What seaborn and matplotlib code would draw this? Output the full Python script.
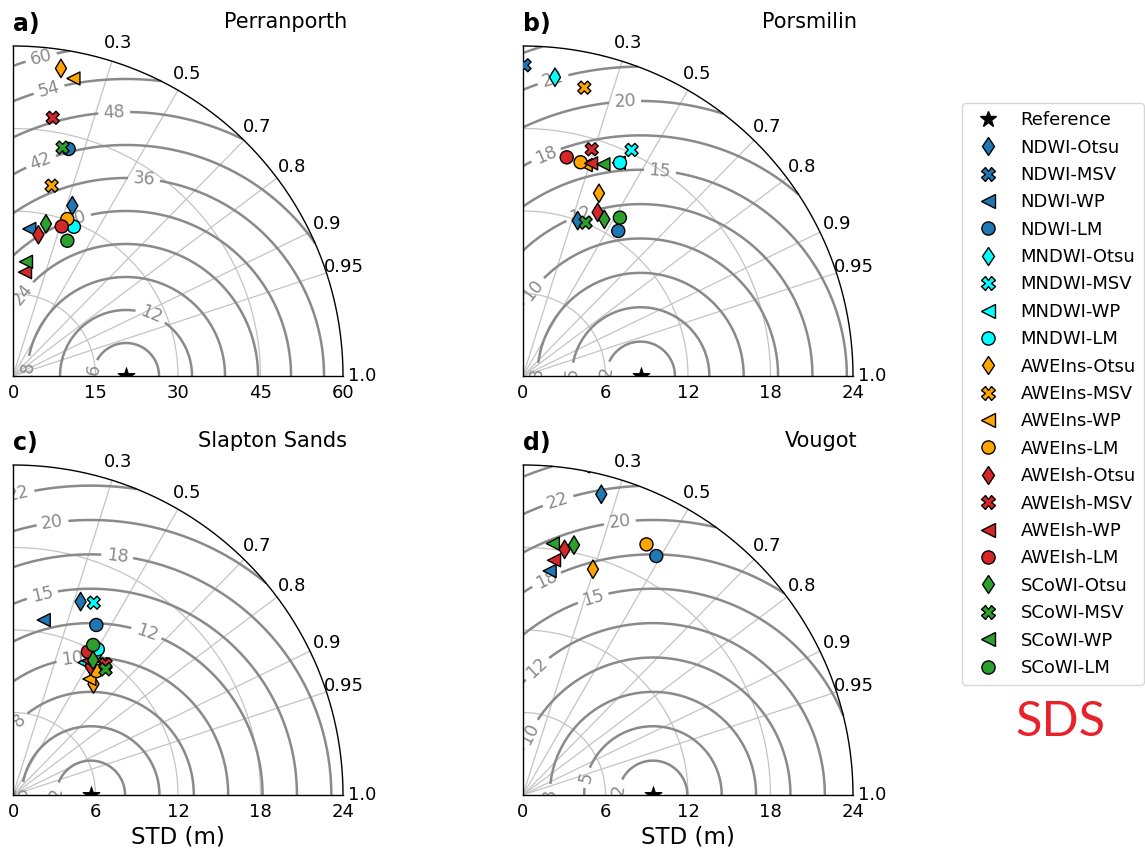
import numpy as np
import pandas as pd
import matplotlib
matplotlib.use("Agg")
import matplotlib.pyplot as plt
import seaborn as sns
from matplotlib.patches import Wedge
from matplotlib.lines import Line2D

sns.set_style("white")
plt.rcParams["font.family"] = ["DejaVu Sans"]
plt.rcParams["text.color"] = "black"
plt.rcParams["axes.labelcolor"] = "black"
plt.rcParams["xtick.color"] = "black"
plt.rcParams["ytick.color"] = "black"

# ---------------- data ----------------
methods = ["NDWI-Otsu", "NDWI-MSV", "NDWI-WP", "NDWI-LM",
           "MNDWI-Otsu", "MNDWI-MSV", "MNDWI-WP", "MNDWI-LM",
           "AWEIns-Otsu", "AWEIns-MSV", "AWEIns-WP", "AWEIns-LM",
           "AWEIsh-Otsu", "AWEIsh-MSV", "AWEIsh-WP", "AWEIsh-LM",
           "SCoWI-Otsu", "SCoWI-MSV", "SCoWI-WP", "SCoWI-LM"]
index_colors = {"NDWI": "#1f77b4", "MNDWI": "cyan", "AWEIns": "orange",
                "AWEIsh": "#d62728", "SCoWI": "#2ca02c"}
threshold_markers = {"Otsu": "d", "MSV": "X", "WP": "<", "LM": "o"}

sites = ["Perranporth", "Porsmilin", "Slapton Sands", "Vougot"]
tags = ["a)", "b)", "c)", "d)"]
ref_std = [20.55, 8.55, 5.65, 9.45]
std_max = [60, 24, 24, 24]
std_ticks = [[0, 15, 30, 45, 60], [0, 6, 12, 18, 24], [0, 6, 12, 18, 24], [0, 6, 12, 18, 24]]
rms_step = [6, 2.5, 2.5, 2.5]
corr_ticks = [0.3, 0.5, 0.7, 0.8, 0.9, 0.95, 1.0]
corr_labels = ["0.3", "0.5", "0.7", "0.8", "0.9", "0.95", "1.0"]

nan = np.nan
std_perranporth = [32.8, nan, 26.9, 42.5, nan, nan, nan, 29.3,
                   56.6, 35.3, 55.2, 30.2, 26.1, 47.5, 19.0, 28.6,
                   28.3, 42.5, 20.9, 26.5]
corr_perranporth = [0.329, nan, 0.110, 0.238, nan, nan, nan, 0.378,
                    0.154, 0.199, 0.199, 0.327, 0.177, 0.152, 0.115, 0.310,
                    0.212, 0.212, 0.113, 0.373]
std_porsmilin = [11.98, 22.6, nan, 12.62, 21.85, 18.24, 17.0, 17.04,
                 14.39, 21.44, 16.0, 16.1, 13.08, 17.23, 16.24, 16.22,
                 12.84, 12.05, 16.47, 13.5]
corr_porsmilin = [0.332, 0.005, nan, 0.549, 0.1065, 0.433, 0.41, 0.414,
                  0.384, 0.208, 0.285, 0.260, 0.415, 0.290, 0.305, 0.196,
                  0.461, 0.378, 0.355, 0.522]
std_slapton = [14.9, nan, 12.92, 13.77, 12.2, 15.17, 10.94, 12.26,
               9.97, 11.58, 10.1, 10.87, 10.94, 11.65, 11.19, 11.76,
               11.4, 11.35, nan, 12.37]
corr_slapton = [0.330, nan, 0.173, 0.440, 0.510, 0.387, 0.475, 0.503,
                0.587, 0.568, 0.550, 0.559, 0.515, 0.578, 0.491, 0.463,
                0.511, 0.593, nan, 0.471]
std_vougot = [22.6, nan, 16.41, 19.9, nan, nan, nan, nan,
              17.19, nan, 24.3, 20.32, 18.12, nan, 17.22, nan,
              18.55, nan, 18.41, nan]
corr_vougot = [0.252, nan, 0.118, 0.487, nan, nan, nan, nan,
               0.296, nan, 0.180, 0.442, 0.167, nan, 0.131, nan,
               0.200, nan, 0.118, nan]
site_std = [std_perranporth, std_porsmilin, std_slapton, std_vougot]
site_corr = [corr_perranporth, corr_porsmilin, corr_slapton, corr_vougot]

palette = {m: index_colors[m.split("-")[0]] for m in methods}
marker_map = {m: threshold_markers[m.split("-")[1]] for m in methods}

rows = []
for site, stds, corrs in zip(sites, site_std, site_corr):
    for m, s, c in zip(methods, stds, corrs):
        if np.isfinite(s):
            rows.append({"site": site, "method": m, "std": s, "corr": c})
df = pd.DataFrame(rows)
df["x"] = df["std"] * df["corr"]
df["y"] = df["std"] * np.sqrt(1 - df["corr"] ** 2)

# ---------------- layout (figure pixels) ----------------
W, H = 1145, 850
origins = [(13, 376), (523, 376), (13, 795), (523, 795)]
side = 330
label_spots = [
    [(5.2, 57.6), (6.6, 51.9), (18.4, 47.8), (5.2, 38.7), (23.8, 35.5), (11.3, 28.7),
     (2.0, 14.7), (25.2, 11.4), (14.6, 1.1), (1.9, 0.8)],
    [(2.2, 21.5), (7.42, 19.95), (1.72, 15.95), (9.96, 14.86), (4.15, 11.95),
     (0.75, 6.25), (0.5, 0.2), (3.66, 0.2), (6.09, 0.31)],
    [(0.42, 21.87), (2.85, 19.93), (7.58, 17.38), (2.12, 14.64), (9.76, 11.93),
     (4.3, 9.99), (0.42, 5.5), (2.97, 0.17), (0.3, 0.2)],
    [(2.55, 21.38), (7.03, 19.93), (1.7, 15.69), (5.09, 14.36), (0.97, 9.27),
     (0.61, 4.41), (4.61, 1.27), (6.91, 0.41), (1.7, 0.05)],
]

fig = plt.figure(figsize=(W / 100, H / 100), dpi=100)
grid_col = "#c4c4c4"
cont_col = "#8a8a8a"

for i, site in enumerate(sites):
    ox, oy = origins[i]
    ax = fig.add_axes([ox / W, (H - oy) / H, side / W, side / H])
    rmax = std_max[i]
    ref = ref_std[i]
    ax.set_xlim(0, rmax)
    ax.set_ylim(0, rmax)
    ax.set_facecolor("white")
    for s in ["top", "right"]:
        ax.spines[s].set_visible(False)
    for s in ["left", "bottom"]:
        ax.spines[s].set_color("black")
        ax.spines[s].set_linewidth(1.0)
        ax.spines[s].set_zorder(6)

    th = np.linspace(0, np.pi / 2, 300)
    for r in std_ticks[i][1:-1]:
        ax.plot(r * np.cos(th), r * np.sin(th), color=grid_col, lw=0.9, zorder=1)
    for c in corr_ticks[:-1]:
        t = np.arccos(c)
        ax.plot([0, rmax * np.cos(t)], [0, rmax * np.sin(t)], color=grid_col, lw=0.9, zorder=1)
    ax.plot(rmax * np.cos(th), rmax * np.sin(th), color="black", lw=1.0, zorder=6, clip_on=False)
    for c, lab in zip(corr_ticks, corr_labels):
        t = np.arccos(c)
        ax.text(1.057 * rmax * np.cos(t), 1.057 * rmax * np.sin(t), lab,
                ha="center", va="center", fontsize=13, clip_on=False)

    # centred RMS difference contours
    rr, tt = np.meshgrid(np.linspace(0, rmax, 240), np.linspace(0, np.pi / 2, 240))
    X = rr * np.cos(tt)
    Y = rr * np.sin(tt)
    rms = np.sqrt(ref ** 2 + rr ** 2 - 2 * ref * rr * np.cos(tt))
    levels = np.arange(rms_step[i], rms.max(), rms_step[i])
    cs = ax.contour(X, Y, rms, levels=levels, colors=cont_col, linewidths=1.8, zorder=3)
    ax.clabel(cs, inline=True, fontsize=12.5, fmt="%.0f", manual=label_spots[i])

    clip = Wedge((0, 0), rmax, 0, 90, transform=ax.transData)
    sub = df[df["site"] == site]
    n0 = len(ax.collections)
    sns.scatterplot(data=sub, x="x", y="y", hue="method", style="method",
                    hue_order=methods, style_order=methods, palette=palette,
                    markers=marker_map, s=88, edgecolor="black", linewidth=1.0,
                    legend=False, ax=ax, zorder=7)
    sns.scatterplot(x=[ref], y=[0.0], marker="*", color="black", s=170,
                    edgecolor="black", linewidth=0.5, legend=False, ax=ax, zorder=8)
    for coll in ax.collections[n0:]:
        coll.set_clip_path(clip)

    ax.set_xticks(std_ticks[i])
    ax.set_xticklabels([str(v) for v in std_ticks[i]])
    ax.set_yticks([])
    ax.tick_params(axis="x", length=0, pad=6, labelsize=13)
    ax.set_xlabel("STD (m)" if i >= 2 else "", fontsize=16.5, labelpad=3)
    ax.set_ylabel("")

    base = 31 if i < 2 else 450
    fig.text(ox / W, 1 - base / H, tags[i], fontsize=17, fontweight="bold",
             ha="left", va="baseline")
    fig.text((ox + 334) / W, 1 - (base - 3) / H, site, fontsize=15,
             ha="right", va="baseline")

# legend
handles = [Line2D([], [], ls="none", marker="*", color="black", markersize=12, label="Reference")]
for m in methods:
    handles.append(Line2D([], [], ls="none", marker=marker_map[m], markerfacecolor=palette[m],
                          markeredgecolor="black", markeredgewidth=1.0, markersize=9.5, label=m))
fig.legend(handles=handles, loc="upper left", bbox_to_anchor=(962 / W, 1 - 103 / H),
           fontsize=13, frameon=True, labelspacing=0.52, borderaxespad=0,
           handletextpad=0.8, borderpad=0.45)

fig.text(1060 / W, 1 - 722 / H, "SDS", color="#e8212b", fontsize=35,
         family=["Lato", "DejaVu Sans"], ha="center", va="center")

fig.savefig("out.png", dpi=100)
